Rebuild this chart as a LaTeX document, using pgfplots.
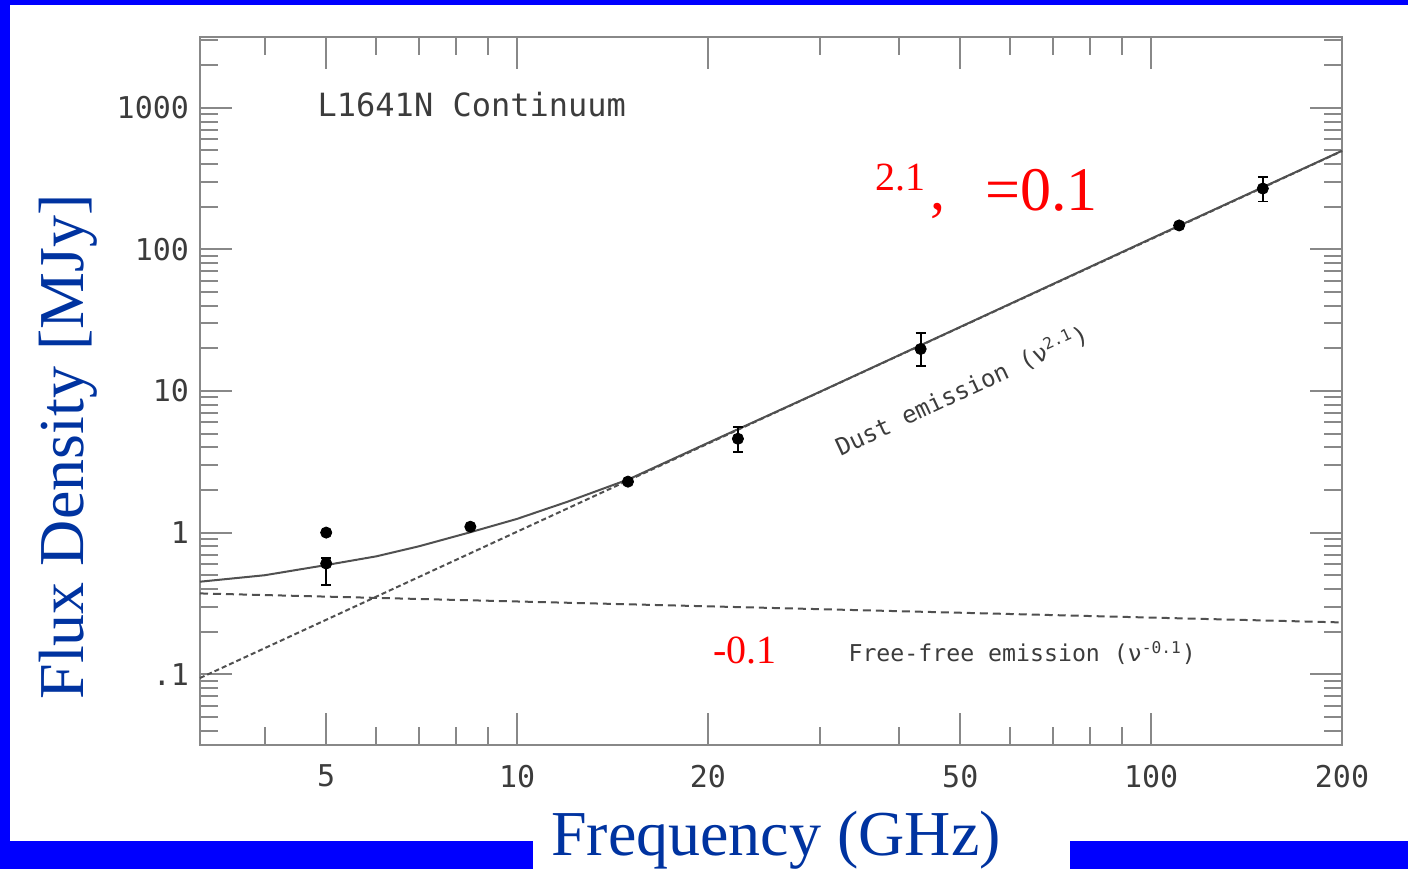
\documentclass[border=0pt]{standalone}
\usepackage{pgfplots}
\pgfplotsset{compat=1.18}
\usepackage{fontspec}
\setmainfont{Liberation Serif}
\newfontfamily\monofont{DejaVu Sans Mono}
\definecolor{frameblue}{RGB}{0,0,255}
\definecolor{labelblue}{RGB}{0,51,160}
\definecolor{axgray}{RGB}{136,136,136}
\definecolor{txtgray}{RGB}{60,60,60}
\definecolor{curvegray}{RGB}{80,80,80}
\begin{document}
\begin{tikzpicture}
\begin{axis}[
  at={(100pt,62pt)}, anchor=south west,
  scale only axis, width=571pt, height=354pt,
  xmode=log, ymode=log,
  xmin=3.162, xmax=200, ymin=0.03162, ymax=3162,
  axis line style={axgray, line width=1.4pt},
  tick style={axgray, line width=1pt},
  major tick length=16pt, minor tick length=9pt,
  xtick={5,10,20,50,100,200},
  xticklabels={5,10,20,50,100,200},
  minor xtick={4,6,7,8,9,30,40,60,70,80,90},
  ytick={0.1,1,10,100,1000},
  yticklabels={.1,1,10,100,1000},
  minor ytick={0.04,0.05,0.06,0.07,0.08,0.09,0.2,0.3,0.4,0.5,0.6,0.7,0.8,0.9,2,3,4,5,6,7,8,9,20,30,40,50,60,70,80,90,200,300,400,500,600,700,800,900,2000,3000},
  ticklabel style={font=\monofont\fontsize{15}{15}\selectfont, text=txtgray},
  yticklabel style={xshift=-2pt},
  xticklabel style={yshift=-6.5pt},
  clip=false,
]
% total
\addplot[curvegray, line width=1pt] coordinates {
(3.162,0.45) (4,0.50) (5,0.59) (6,0.68) (7,0.80) (8.4,1.0) (10,1.25) (12,1.65) (15,2.38) (20,4.3) (30,9.85) (50,28.35) (100,119.2) (200,497)};
% dust
\addplot[curvegray, line width=1pt, dash pattern=on 2.5pt off 1.5pt] coordinates {(3.162,0.094) (200,495)};
% free-free
\addplot[curvegray, line width=1pt, dash pattern=on 4pt off 2.5pt] coordinates {(3.162,0.372) (200,0.232)};
% data points without error bars
\addplot[only marks, mark=*, mark size=2.8pt, black] coordinates {(5,1.0) (8.44,1.1) (14.96,2.29) (110.7,147.6)};
% data points with error bars
\addplot[only marks, mark=*, mark size=2.8pt, black,
  error bars/.cd, y dir=both, y explicit,
  error bar style={black, line width=0.9pt},
  error mark options={rotate=90, mark size=2.5pt, black, line width=0.9pt}]
  coordinates {
  (5,0.605) += (0,0.06) -= (0,0.18)
  (22.3,4.6) += (0,1.0) -= (0,0.9)
  (43.3,19.8) += (0,5.8) -= (0,4.8)
  (150,269) += (0,57) -= (0,51)
  };
% annotations
\node[font=\monofont\fontsize{16}{16}\selectfont, text=txtgray] at (rel axis cs:0.238,0.904) {L1641N Continuum};
\node[font=\fontsize{20}{20}\selectfont, text=red] at (rel axis cs:0.613,0.801) {2.1};
\node[font=\fontsize{30}{30}\selectfont, text=red, anchor=base] at (rel axis cs:0.646,0.757) {,};
\node[font=\fontsize{31}{31}\selectfont, text=red] at (rel axis cs:0.737,0.784) {=0.1};
\node[font=\fontsize{20}{20}\selectfont, text=red] at (rel axis cs:0.477,0.134) {-0.1};
\node[font=\monofont\fontsize{12}{12}\selectfont, text=txtgray, rotate=25, inner sep=0pt] at (rel axis cs:0.667,0.501) {Dust emission (ν\textsuperscript{2.1})};
\node[font=\monofont\fontsize{11.6}{11.6}\selectfont, text=txtgray, inner sep=0pt] at (rel axis cs:0.720,0.130) {Free-free emission (ν\textsuperscript{-0.1})};
\end{axis}
% frame
\fill[frameblue] (0,432pt) rectangle (704pt,434.5pt);
\fill[frameblue] (0,0) rectangle (5pt,434.5pt);
\fill[frameblue] (0,0) rectangle (266.5pt,14pt);
\fill[frameblue] (535pt,0) rectangle (704pt,14pt);
% axis labels
\node[font=\fontsize{32}{32}\selectfont, text=labelblue, rotate=90] at (34pt,211pt) {Flux Density [MJy]};
\node[font=\fontsize{32}{32}\selectfont, text=labelblue, anchor=base] at (388pt,7pt) {Frequency (GHz)};
\pgfresetboundingbox
\path[use as bounding box] (0,0) rectangle (704pt,434.5pt);
\end{tikzpicture}
\end{document}
